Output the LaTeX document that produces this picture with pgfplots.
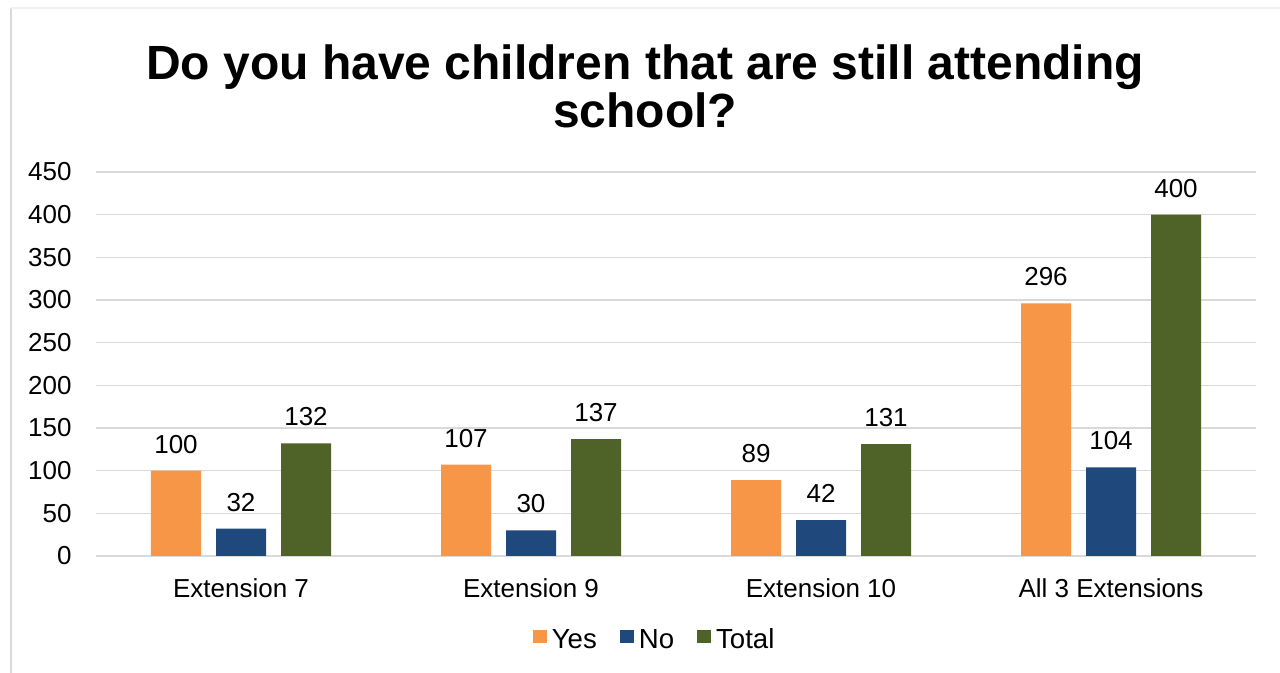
\documentclass[border=0pt]{standalone}
\usepackage{pgfplots}
\pgfplotsset{compat=1.18}
\usepackage{fontspec}
\setmainfont{Liberation Sans}
\definecolor{cyes}{HTML}{F79646}
\definecolor{cno}{HTML}{1F497D}
\definecolor{ctot}{HTML}{4F6228}
\definecolor{cgrid}{HTML}{D9D9D9}
\begin{document}
\begin{tikzpicture}
\useasboundingbox[fill=white] (0,0) rectangle (640bp,336.5bp);
\draw[cgrid, line width=1.2bp] (5.5bp,0) -- (5.5bp,332.5bp);
\draw[black!5, line width=0.8bp] (5.5bp,332.5bp) -- (640bp,332.5bp);
\begin{axis}[
  at={(48bp,58.5bp)}, anchor=south west,
  scale only axis, width=580bp, height=192bp,
  xmin=-0.5, xmax=3.5, ymin=0, ymax=450,
  ybar, bar width=25bp,
  xtick={0,1,2,3},
  xticklabels={Extension 7, Extension 9, Extension 10, All 3 Extensions},
  ytick={0,50,...,450},
  major tick length=0pt,
  axis line style={draw=none},
  ymajorgrids, grid style={cgrid, line width=0.8bp},
  extra y ticks={0}, extra y tick labels={},
  extra y tick style={grid style={cgrid, line width=1bp}},
  tick label style={font=\fontsize{13bp}{15bp}\selectfont, text=black},
  /pgf/number format/assume math mode=true,
  yticklabel style={inner sep=0pt, xshift=-12bp},
  xticklabel style={inner sep=0pt, yshift=-11bp},
  nodes near coords,
  every node near coord/.append style={font=\fontsize{13bp}{15bp}\selectfont, text=black, inner sep=0pt, anchor=south, yshift=8.5bp},
  legend columns=3,
  legend style={at={(0.482,-0.219)}, anchor=center, draw=none, fill=none,
    font=\fontsize{13.8bp}{16bp}\selectfont,
    nodes={inner sep=1.5bp},
    /tikz/every even column/.append style={column sep=10bp}},
  legend image code/.code={\fill[#1] (0bp,-1.4bp) rectangle (7bp,5.1bp); \path (0bp,0bp) -- (8bp,0bp);},
]
\addplot[fill=cyes, draw=none, bar shift=-32.5bp] coordinates {(0,100) (1,107) (2,89) (3,296)};
\addplot[fill=cno, draw=none, bar shift=0bp] coordinates {(0,32) (1,30) (2,42) (3,104)};
\addplot[fill=ctot, draw=none, bar shift=32.5bp] coordinates {(0,132) (1,137) (2,131) (3,400)};
\legend{Yes, No, Total}
\end{axis}
\node[anchor=base, font=\bfseries\fontsize{24bp}{28bp}\selectfont] at (322.5bp,296.5bp) {Do you have children that are still attending};
\node[anchor=base, font=\bfseries\fontsize{24bp}{28bp}\selectfont] at (322.5bp,272.5bp) {school?};
\end{tikzpicture}
\end{document}
